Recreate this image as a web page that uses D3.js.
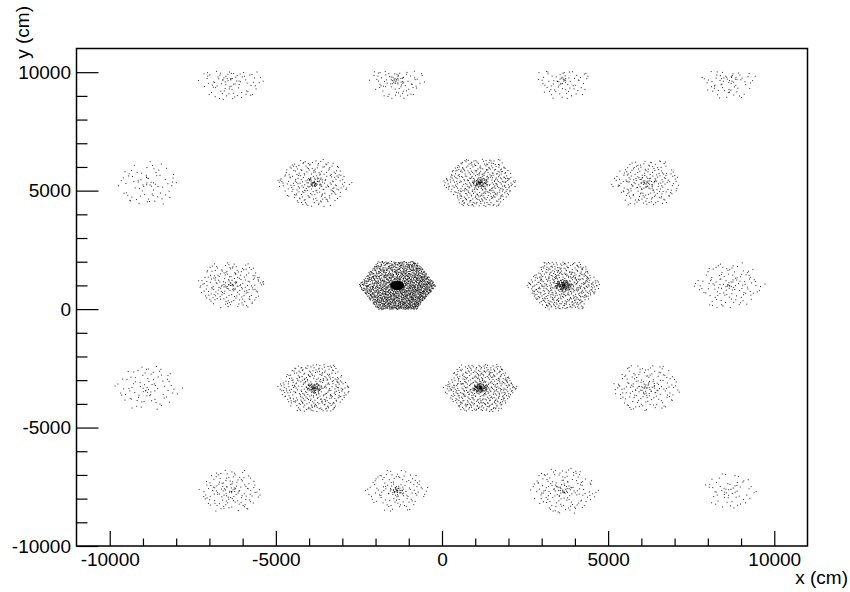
<!DOCTYPE html>
<html>
<head>
<meta charset="utf-8">
<script src="https://cdn.jsdelivr.net/npm/d3@7"></script>
<style>
  html, body { margin: 0; padding: 0; background: #fff; }
  svg text { font-family: "Liberation Sans", Arial, Helvetica, sans-serif; }
</style>
</head>
<body>
<svg id="chart" width="850" height="592"></svg>
<script>
// ---- Data (cluster level, in cm) ----
const clusterX = [-6350, -1350, 3650, 8650,
                  -8850, -3850, 1150, 6150,
                  -6350, -1350, 3650, 8650,
                  -8850, -3850, 1150, 6150,
                  -6350, -1350, 3650, 8650];
const clusterY = [9660, 9660, 9660, 9660,
                  5330, 5330, 5330, 5330,
                  1000, 1000, 1000, 1000,
                  -3330, -3330, -3330, -3330,
                  -7660, -7660, -7660, -7660];
// hits spread over each hexagonal station
const clusterHits = [80, 75, 65, 60,
                     70, 240, 420, 210,
                     200, 1700, 520, 120,
                     80, 360, 480, 160,
                     130, 120, 150, 55];
// hits in the dense core of each station
const coreHits = [8, 18, 12, 8,
                  6, 35, 60, 22,
                  18, 480, 100, 10,
                  6, 55, 90, 18,
                  10, 28, 16, 5];
// station half-width (cm)
const clusterRadius = [1000, 900, 950, 900,
                       1050, 1150, 1150, 1100,
                       1100, 1170, 1150, 1100,
                       1050, 1150, 1150, 1100,
                       1000, 1000, 1100, 850];
// how fast the hit density falls off towards the station edge
const clusterFalloff = [0.5, 0.5, 0.5, 0.5,
                        0.5, 0.45, 0.35, 0.45,
                        0.45, 0.1, 0.35, 0.5,
                        0.5, 0.35, 0.35, 0.45,
                        0.5, 0.5, 0.5, 0.5];
// extra density towards the lower right of a station
const clusterTilt = [0, 0, 0, 0,
                     0, 0, 0.2, 0,
                     0, 0.6, 0.2, 0,
                     0, 0.2, 0.2, 0,
                     0, 0, 0, 0];
const coreRadius = [300, 250, 250, 300,
                    300, 260, 240, 280,
                    280, 200, 260, 300,
                    300, 240, 220, 280,
                    300, 230, 280, 300];
const topCut = 10050; // upper edge of the instrumented area (cm)

const xMajor = [-10000, -5000, 0, 5000, 10000];
const yMajor = [-10000, -5000, 0, 5000, 10000];
const xMinor = d3.range(-10000, 10001, 1000).filter(v => v % 5000 !== 0);
const yMinor = d3.range(-10000, 10001, 1000).filter(v => v % 5000 !== 0);

// ---- Layout ----
const svg = d3.select("#chart");
const x = d3.scaleLinear().domain([-11000, 11000]).range([76.5, 807.5]);
const y = d3.scaleLinear().domain([-10000, 11000]).range([546, 48.5]);
const FONT = 19;

// deterministic low-discrepancy sampling of the station areas
function halton(i, b) { let f = 1, r = 0; while (i > 0) { f /= b; r += f * (i % b); i = Math.floor(i / b); } return r; }

const points = [];
clusterX.forEach((cx, c) => {
  const cy = clusterY[c], R = clusterRadius[c], H = R * Math.sqrt(3) / 2;
  let n = 0, i = c * 3001 + 1, guard = 0;
  while (n < clusterHits[c] && guard < 200000) {
    guard++; i++;
    const idx = i * 409;
    const dx = (2 * halton(idx, 2) - 1) * R;
    const dy = (2 * halton(idx, 3) - 1) * H;
    const w = halton(idx, 5);
    if (Math.abs(dx) > R - Math.abs(dy) / Math.sqrt(3)) continue;
    const rr = (dx * dx + dy * dy) / (R * R);
    const tilt = 1 + clusterTilt[c] * ((dx / R) - (dy / H)) / 2;
    if (w * (1 + clusterTilt[c]) > tilt * (1 - clusterFalloff[c] * rr)) continue;
    if (cy + dy > topCut) continue;
    points.push([cx + dx, cy + dy]);
    n++;
  }
  const cr = coreRadius[c];
  for (let k = 1; k <= coreHits[c]; k++) {
    const j = (c * 997 + k) * 211;
    const rad = cr * Math.pow(halton(j, 7), 0.8);
    const ang = 2 * Math.PI * halton(j, 11);
    const py = cy + rad * Math.sin(ang) * 0.9;
    if (py > topCut) continue;
    points.push([cx + rad * Math.cos(ang), py]);
  }
});

svg.append("clipPath").attr("id", "plotclip")
  .append("rect").attr("x", 76.5).attr("y", 48.5).attr("width", 731).attr("height", 497.5);

svg.append("g").attr("clip-path", "url(#plotclip)")
  .selectAll("rect").data(points).join("rect")
  .attr("x", d => x(d[0]) - 0.5)
  .attr("y", d => y(d[1]) - 0.5)
  .attr("width", 1).attr("height", 1)
  .attr("fill", "#000").attr("fill-opacity", 0.85);

// ---- Axes ----
const fmt = d => String(d);
const gx = svg.append("g").attr("transform", "translate(0,546)");
gx.call(d3.axisBottom(x).tickValues(xMajor).tickFormat(fmt).tickSize(-15).tickSizeOuter(0).tickPadding(6.5));
gx.append("g").call(d3.axisBottom(x).tickValues(xMinor).tickFormat("").tickSize(-7.5).tickSizeOuter(0));

const gy = svg.append("g").attr("transform", "translate(76.5,0)");
gy.call(d3.axisLeft(y).tickValues(yMajor).tickFormat(fmt).tickSize(-22).tickSizeOuter(0).tickPadding(5.5));
gy.append("g").call(d3.axisLeft(y).tickValues(yMinor).tickFormat("").tickSize(-11).tickSizeOuter(0));

svg.selectAll(".domain").remove();
svg.selectAll(".tick line").attr("stroke", "#000").attr("stroke-width", 1.2);
svg.selectAll(".tick text").attr("font-size", FONT).attr("fill", "#000")
  .style("font-family", "'Liberation Sans', Arial, Helvetica, sans-serif");

// frame
svg.append("rect").attr("x", 76.5).attr("y", 48.5).attr("width", 731).attr("height", 497.5)
  .attr("fill", "none").attr("stroke", "#000").attr("stroke-width", 1.5);

// axis titles
svg.append("text").attr("x", 848).attr("y", 584).attr("text-anchor", "end")
  .attr("font-size", FONT).attr("fill", "#000").text("x (cm)");
svg.append("text").attr("transform", "translate(29,6) rotate(-90)").attr("text-anchor", "end")
  .attr("font-size", FONT).attr("fill", "#000").text("y (cm)");
</script>
</body>
</html>
